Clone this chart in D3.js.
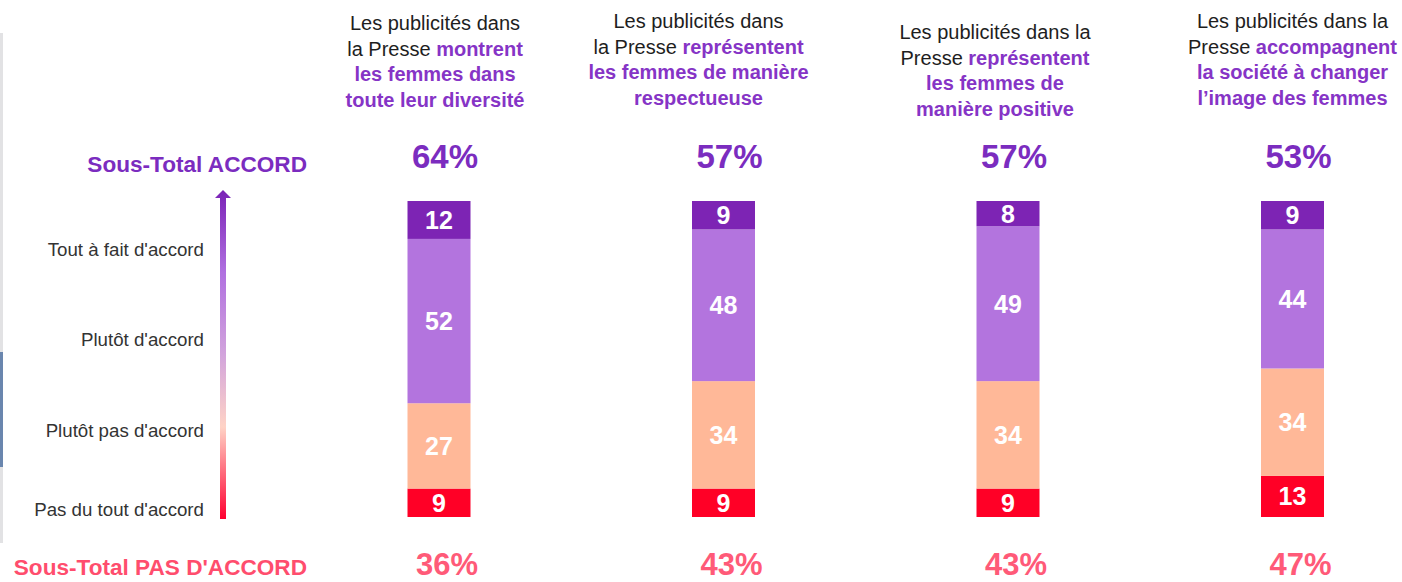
<!DOCTYPE html>
<html>
<head>
<meta charset="utf-8">
<script src="https://cdn.jsdelivr.net/npm/d3@7"></script>
<style>
  html, body { margin: 0; padding: 0; background: #fff; }
  svg { display: block; font-family: Arial, "Liberation Sans", sans-serif; }
</style>
</head>
<body>
<div id="chart"></div>
<script>
// data
const statements = ["montrent", "respectueuse", "positive", "accompagnent"];
const levels = ["Pas du tout d'accord", "Plutôt pas d'accord", "Plutôt d'accord", "Tout à fait d'accord"];
const pasDuTout = [9, 9, 9, 13];
const plutotPas = [27, 34, 34, 34];
const plutot = [52, 48, 49, 44];
const toutAFait = [12, 9, 8, 9];
// header lines : [plain part, purple bold part]
const headers = [
  [["Les publicités dans", ""], ["la Presse ", "montrent"], ["", "les femmes dans"], ["", "toute leur diversité"]],
  [["Les publicités dans", ""], ["la Presse ", "représentent"], ["", "les femmes de manière"], ["", "respectueuse"]],
  [["Les publicités dans la", ""], ["Presse ", "représentent"], ["", "les femmes de"], ["", "manière positive"]],
  [["Les publicités dans la", ""], ["Presse ", "accompagnent"], ["", "la société à changer"], ["", "l’image des femmes"]]
];

const W = 1402, H = 582;
const colours = ["#ff0026", "#ffb898", "#b374de", "#7d24b4"];
const headShift = [-4, -25, -13, 0];   // header text is not quite centred on bars
const headTop = [30, 28, 39, 28];

const svg = d3.select("#chart").append("svg")
  .attr("width", W)
  .attr("height", H);

// grey strip on the left edge (cropped screenshot)
svg.append("rect").attr("x", 0).attr("y", 33).attr("width", 3).attr("height", 510).attr("fill", "#e2e2e4");
svg.append("rect").attr("x", 0).attr("y", 352).attr("width", 3).attr("height", 115).attr("fill", "#6a86ae");

const x = d3.scalePoint()
  .domain(statements)
  .range([439, 1292.5]);
const y = d3.scaleLinear()
  .domain([0, 100])
  .range([517, 201]);
const barW = 63;

const table = statements.map((s, i) => ({
  key: s, i: i,
  vals: [pasDuTout[i], plutotPas[i], plutot[i], toutAFait[i]]
}));
const stack = d3.stack()
  .keys([0, 1, 2, 3])
  .value((d, k) => d.vals[k]);
const series = stack(table);

// bars
const g = svg.append("g");
g.selectAll("g.layer")
  .data(series)
  .join("g")
  .attr("class", "layer")
  .attr("fill", (d, k) => colours[k])
  .selectAll("rect")
  .data(d => d)
  .join("rect")
  .attr("x", d => x(d.data.key) - barW / 2)
  .attr("y", d => y(d[1]))
  .attr("width", barW)
  .attr("height", d => y(d[0]) - y(d[1]));

// labels in bars
g.selectAll("g.lbl")
  .data(series)
  .join("g")
  .attr("class", "lbl")
  .selectAll("text")
  .data(d => d)
  .join("text")
  .attr("x", d => x(d.data.key))
  .attr("y", d => (y(d[0]) + y(d[1])) / 2)
  .attr("dy", "0.36em")
  .attr("text-anchor", "middle")
  .attr("fill", "#fff")
  .attr("font-weight", "bold")
  .attr("font-size", 25)
  .text(d => d[1] - d[0]);

// totals
svg.selectAll("text.tot-top")
  .data(table)
  .join("text")
  .attr("class", "tot-top")
  .attr("x", d => x(d.key) + 6)
  .attr("y", 168)
  .attr("text-anchor", "middle")
  .attr("fill", "#7b2cbf")
  .attr("font-weight", "bold")
  .attr("font-size", 33)
  .text(d => (d.vals[2] + d.vals[3]) + "%");

svg.selectAll("text.tot-bot")
  .data(table)
  .join("text")
  .attr("class", "tot-bot")
  .attr("x", d => x(d.key) + 8)
  .attr("y", 575)
  .attr("text-anchor", "middle")
  .attr("fill", "#ff5a78")
  .attr("font-weight", "bold")
  .attr("font-size", 31)
  .text(d => (d.vals[0] + d.vals[1]) + "%");

// headers
table.forEach((d, i) => {
  const t = svg.append("text")
    .attr("text-anchor", "middle")
    .attr("font-size", 20);
  headers[i].forEach((ln, j) => {
    const line = t.append("tspan")
      .attr("x", x(d.key) + headShift[i])
      .attr("y", headTop[i] + j * 25.5);
    if (ln[0]) line.append("tspan").attr("fill", "#1e1e1e").text(ln[0]);
    if (ln[1]) line.append("tspan").attr("fill", "#8634c6").attr("font-weight", "bold").text(ln[1]);
  });
});

// left legend
const levelY = d3.scaleOrdinal()
  .domain(levels)
  .range([509, 430, 339, 249]);
svg.selectAll("text.lvl")
  .data(levels)
  .join("text")
  .attr("class", "lvl")
  .attr("x", 204)
  .attr("y", d => levelY(d))
  .attr("dy", "0.36em")
  .attr("text-anchor", "end")
  .attr("font-size", 18.7)
  .attr("fill", "#333")
  .text(d => d);

svg.append("text")
  .attr("x", 307).attr("y", 172)
  .attr("text-anchor", "end")
  .attr("font-weight", "bold").attr("font-size", 22.6)
  .attr("fill", "#7b2cbf")
  .text("Sous-Total ACCORD");
svg.append("text")
  .attr("x", 307).attr("y", 575)
  .attr("text-anchor", "end")
  .attr("font-weight", "bold").attr("font-size", 22.6)
  .attr("fill", "#ff4d6d")
  .text("Sous-Total PAS D'ACCORD");

// gradient arrow
const defs = svg.append("defs");
const grad = defs.append("linearGradient")
  .attr("id", "arrowGrad")
  .attr("x1", 0).attr("y1", 1).attr("x2", 0).attr("y2", 0);
[["0%", "#ff0030"], ["28%", "#ffd3c6"], ["50%", "#d2a4dc"], ["75%", "#b070e0"], ["100%", "#7a22b6"]]
  .forEach(s => grad.append("stop").attr("offset", s[0]).attr("stop-color", s[1]));

const ax = 223;
svg.append("path")
  .attr("d", `M${ax - 3},519 L${ax - 3},198 L${ax - 8},198 L${ax},190 L${ax + 8},198 L${ax + 3},198 L${ax + 3},519 Z`)
  .attr("fill", "url(#arrowGrad)");
</script>
</body>
</html>
